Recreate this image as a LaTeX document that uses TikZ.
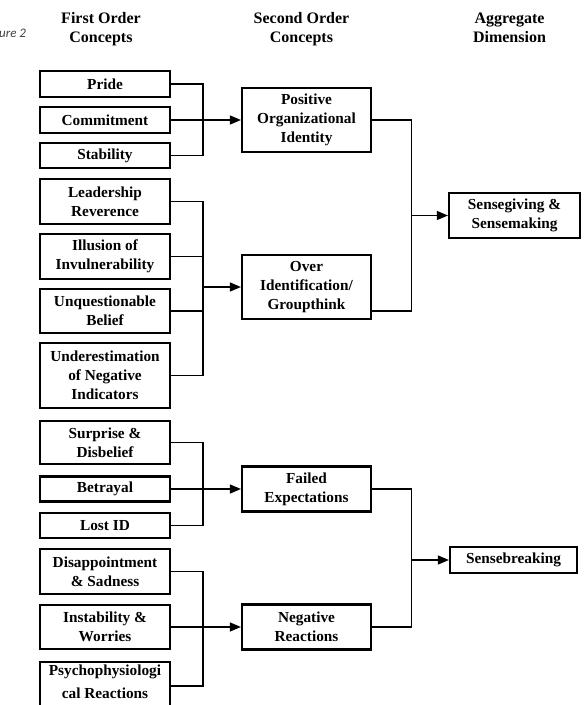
\documentclass[tikz,border=0pt]{standalone}
\usepackage{fontspec}
\setmainfont{Liberation Serif}
\newfontfamily\figfont{Carlito}
\usepackage{tikz}
\usetikzlibrary{arrows}

\begin{document}
\begin{tikzpicture}[x=1pt, y=-1pt, >=triangle 45,
  box/.style={draw, line width=2.2pt, inner sep=0pt, align=center, minimum width=130pt,
    font=\bfseries\fontsize{15.3}{19}\selectfont},
  hd/.style={anchor=base, align=center, inner sep=0pt, font=\bfseries\fontsize{16}{19}\selectfont},
  ln/.style={line width=1.6pt}]

\clip (0,0) rectangle (588,705);

% column heads (base = last line)
\node [anchor=base west, inner sep=0pt, font=\figfont\itshape\fontsize{13}{15}\selectfont, text=black!75] (fig) at (-1,37) {ure 2};
\node [hd] (h1) at (101,42) {First Order\\Concepts};
\node [hd] (h2) at (301.5,42) {Second Order\\Concepts};
\node [hd] (h3) at (509.5,42) {Aggregate\\Dimension};

% first order concepts
\node [box, minimum height=26pt] (pr) at (105,84) {Pride};
\node [box, minimum height=26pt] (cm) at (105,120) {Commitment};
\node [box, minimum height=25pt] (st) at (105,155.5) {Stability};
\node [box, minimum height=45pt] (lr) at (105,201.5) {Leadership\\Reverence};
\node [box, minimum height=45pt] (il) at (105,256.5) {Illusion of\\Invulnerability};
\node [box, minimum height=44pt] (ub) at (105,311) {Unquestionable\\Belief};
\node [box, minimum height=65pt] (un) at (105,375.5) {Underestimation\\of Negative\\Indicators};

\node [box, minimum height=43pt] (sd) at (105,442.5) {Surprise \&\\Disbelief};
\node [box, minimum height=25pt] (bt) at (105,489) {Betrayal};
\node [box, minimum height=25pt] (lo) at (105,525.5) {Lost ID};
\node [box, minimum height=45pt] (ds) at (105,571.5) {Disappointment\\\& Sadness};
\node [box, minimum height=44pt] (iw) at (105,627) {Instability \&\\Worries};
\node [box, anchor=north, inner ysep=2.8pt, text depth=30pt, font=\bfseries\fontsize{15.3}{23}\selectfont] (ps) at (105,661) {Psychophysiologi\\cal Reactions};

% second order concepts
\node [box, minimum width=129pt, minimum height=64pt] (po) at (306.5,120) {Positive\\Organizational\\Identity};
\node [box, minimum width=129pt, minimum height=64pt] (ov) at (306.5,287) {Over\\Identification/\\Groupthink};
\node [box, minimum width=129pt, minimum height=45pt] (fe) at (306.5,489) {Failed\\Expectations};
\node [box, minimum width=129pt, minimum height=45pt] (nr) at (306.5,627) {Negative\\Reactions};

% aggregate dimensions
\node [box, minimum width=131pt, minimum height=45pt] (sg) at (514.5,215.5) {Sensegiving \&\\Sensemaking};
\node [box, minimum width=127pt, minimum height=26pt] (sb) at (513.5,560) {Sensebreaking};

% brackets, first to second order
\coordinate (t1) at (203,120);
\coordinate (t2) at (203,287);
\coordinate (t3) at (203,489);
\coordinate (t4) at (203,627);
\coordinate (pso) at ([yshift=-25pt]ps.north east);

\draw[ln] (pr.east) -| (t1) |- (st.east);
\draw[ln] (cm.east) -- (t1);
\draw[ln,->] (t1) -- (po.west);

\draw[ln] (lr.east) -| (t2) |- (un.east);
\draw[ln] (il.east) -- (il.east -| t2);
\draw[ln] (ub.east) -- (ub.east -| t2);
\draw[ln,->] (t2) -- (ov.west);

\draw[ln] (sd.east) -| (t3) |- (lo.east);
\draw[ln] (bt.east) -- (t3);
\draw[ln,->] (t3) -- (fe.west);

\draw[ln] (ds.east) -| (t4) |- (pso);
\draw[ln] (iw.east) -- (t4);
\draw[ln,->] (t4) -- (nr.west);

% second order to aggregate
\coordinate (a1) at (411.5,215.5);
\coordinate (a2) at (411.5,560);
\coordinate (ovo) at ([yshift=-24pt]ov.east);

\draw[ln] (po.east) -| (a1) |- (ovo);
\draw[ln,->] (a1) -- (sg.west);

\draw[ln] (fe.east) -| (a2) |- (nr.east);
\draw[ln,->] (a2) -- (sb.west);

\end{tikzpicture}
\end{document}
